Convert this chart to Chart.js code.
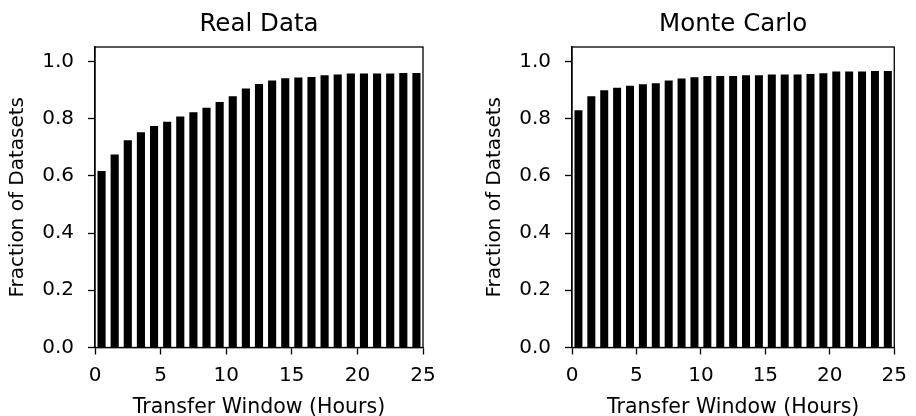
<!DOCTYPE html>
<html>
<head>
<meta charset="utf-8">
<script src="https://cdn.jsdelivr.net/npm/chart.js@4/dist/chart.umd.min.js"></script>
<style>
  body { margin: 0; background: #fff; }
  #wrap { position: relative; width: 916px; height: 416px; }
  canvas { position: absolute; top: 0; }
</style>
</head>
<body>
<div id="wrap">
  <canvas id="realChart" width="458" height="416" style="left:0"></canvas>
  <canvas id="mcChart" width="458" height="416" style="left:458px"></canvas>
</div>
<script>
// bar centres, in hours
const hours = [0.5, 1.5, 2.5, 3.5, 4.5, 5.5, 6.5, 7.5, 8.5, 9.5, 10.5, 11.5, 12.5,
  13.5, 14.5, 15.5, 16.5, 17.5, 18.5, 19.5, 20.5, 21.5, 22.5, 23.5, 24.5];

const realData = [0.617, 0.674, 0.724, 0.752, 0.774, 0.789, 0.807, 0.822, 0.838, 0.858,
  0.878, 0.905, 0.921, 0.933, 0.941, 0.943, 0.945, 0.951, 0.954, 0.957,
  0.957, 0.957, 0.957, 0.959, 0.959];

const monteCarlo = [0.829, 0.878, 0.899, 0.908, 0.915, 0.920, 0.923, 0.933, 0.940, 0.944,
  0.949, 0.949, 0.949, 0.951, 0.951, 0.954, 0.954, 0.954, 0.956, 0.958,
  0.964, 0.964, 0.964, 0.966, 0.966];

const xTicks = [0, 5, 10, 15, 20, 25];
const yTicks = [0, 0.2, 0.4, 0.6, 0.8, 1.0];

const FONT = 'DejaVu Sans';

// draw the top and right spines too
const framePlugin = {
  id: 'frame',
  afterDraw(chart) {
    const { ctx, chartArea: a } = chart;
    ctx.save();
    ctx.strokeStyle = '#000';
    ctx.lineWidth = 1.3;
    ctx.strokeRect(a.left, a.top, a.right - a.left, a.bottom - a.top);
    ctx.restore();
  }
};

function makeChart(id, title, values, padLeft, padRight) {
  const ctx = document.getElementById(id).getContext('2d');
  return new Chart(ctx, {
    type: 'bar',
    data: {
      datasets: [{
        data: hours.map((h, i) => ({ x: h, y: values[i] })),
        xAxisID: 'x',
        yAxisID: 'y',
        backgroundColor: '#000',
        borderWidth: 0,
        categoryPercentage: 1,
        barPercentage: 0.62
      }]
    },
    options: {
      responsive: false,
      animation: false,
      devicePixelRatio: 1,
      layout: { padding: { left: padLeft, right: padRight, top: 0, bottom: 0 } },
      plugins: {
        legend: { display: false },
        tooltip: { enabled: false },
        title: { display: false }
      },
      scales: {
        x: {
          type: 'linear',
          min: 0,
          max: 25,
          offset: false,
          afterBuildTicks: s => { s.ticks = xTicks.map(v => ({ value: v })); },
          afterFit: s => { s.height = 68.5; },
          ticks: {
            color: '#000',
            font: { family: FONT, size: 20 },
            padding: 9,
            maxRotation: 0
          },
          grid: {
            offset: false,
            drawOnChartArea: false,
            drawTicks: true,
            tickLength: 7,
            tickColor: '#000',
            tickWidth: 1.3
          },
          border: { display: true, color: '#000', width: 1.3 },
          title: {
            display: true,
            text: 'Transfer Window (Hours)',
            color: '#000',
            font: { family: FONT, size: 20.5 },
            padding: { top: 0, bottom: -4 }
          }
        },
        // top axis only carries the subplot title, so it centres over the plot area
        top: {
          type: 'linear',
          axis: 'x',
          position: 'top',
          min: 0,
          max: 25,
          offset: false,
          afterFit: s => { s.height = 47; },
          ticks: { display: false },
          grid: { display: false },
          border: { display: false },
          title: {
            display: true,
            text: title,
            color: '#000',
            font: { family: FONT, size: 24.5 },
            padding: { top: 10, bottom: 0 }
          }
        },
        y: {
          min: 0,
          max: 1.05,
          afterBuildTicks: s => { s.ticks = yTicks.map(v => ({ value: v })); },
          afterFit: s => { s.width = 95; },
          ticks: {
            color: '#000',
            font: { family: FONT, size: 20 },
            padding: 14,
            callback: v => v.toFixed(1)
          },
          grid: {
            drawOnChartArea: false,
            drawTicks: true,
            tickLength: 7,
            tickColor: '#000',
            tickWidth: 1.3
          },
          border: { display: true, color: '#000', width: 1.3 },
          title: {
            display: true,
            text: 'Fraction of Datasets',
            color: '#000',
            font: { family: FONT, size: 20 },
            padding: { top: 6, bottom: 0 }
          }
        }
      }
    },
    plugins: [framePlugin]
  });
}

makeChart('realChart', 'Real Data', realData, 0, 35);
makeChart('mcChart', 'Monte Carlo', monteCarlo, 19, 16);
</script>
</body>
</html>
